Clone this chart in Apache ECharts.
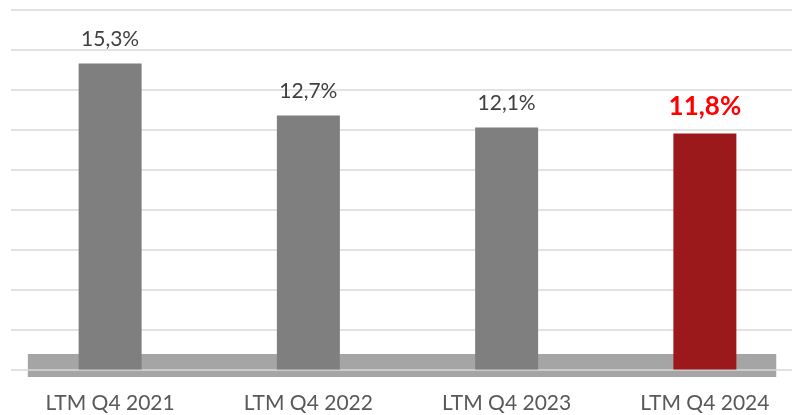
<!DOCTYPE html>
<html>
<head>
<meta charset="utf-8">
<style>
  html, body { margin: 0; padding: 0; background: #ffffff; }
  #chart { width: 792px; height: 415px; }
</style>
<script src="https://cdn.jsdelivr.net/npm/echarts@6/dist/echarts.min.js"></script>
</head>
<body>
<div id="chart"></div>
<script>
// LTM margin by period (%)
const categories = ['LTM Q4 2021', 'LTM Q4 2022', 'LTM Q4 2023', 'LTM Q4 2024'];
const values = [15.3, 12.7, 12.1, 11.8];
const highlightIndex = 3;

const FONT = 'Lato, "Open Sans", sans-serif';
const fmt = v => v.toFixed(1).replace('.', ',') + '%';

const chart = echarts.init(document.getElementById('chart'), null, { renderer: 'canvas' });

const barData = values.map((v, i) => {
  const hi = i === highlightIndex;
  return {
    value: v,
    itemStyle: { color: hi ? '#9b181b' : '#7f7f7f' },
    label: hi
      ? { color: '#ff0000', fontWeight: 'bold', fontSize: 26 }
      : { color: '#404040', fontWeight: 'normal', fontSize: 21 }
  };
});

chart.setOption({
  animation: false,
  backgroundColor: '#ffffff',
  // plot area runs a little past the right edge of the canvas
  grid: {
    left: 11, width: 793, top: 9.5, bottom: 45.5,
    containLabel: false, outerBoundsMode: 'none'
  },
  xAxis: {
    type: 'category',
    data: categories,
    axisLine: { show: false },
    axisTick: { show: false },
    axisLabel: { color: '#595959', fontSize: 21, fontFamily: FONT, margin: 23 }
  },
  yAxis: {
    type: 'value',
    min: 0,
    max: 18,
    interval: 2,
    axisLabel: { show: false },
    axisLine: { show: false },
    axisTick: { show: false },
    splitLine: { lineStyle: { color: '#d9d9d9', width: 1.5 } }
  },
  series: [{
    type: 'bar',
    data: barData,
    barWidth: 63,
    z: 3,
    label: {
      show: true,
      position: 'top',
      distance: 14,
      fontFamily: FONT,
      formatter: p => fmt(p.value)
    }
  }]
});

// Chart floor: a flat grey slab under the bars, drawn behind the gridlines
function drawFloor() {
  const y0 = chart.convertToPixel({ yAxisIndex: 0 }, 0);
  const xFirst = chart.convertToPixel({ xAxisIndex: 0 }, 0);
  const xLast = chart.convertToPixel({ xAxisIndex: 0 }, categories.length - 1);
  const step = (xLast - xFirst) / (categories.length - 1);
  const left = xFirst - step * 0.415;
  const right = xLast + step * 0.36;
  chart.setOption({
    graphic: [{
      type: 'rect',
      z: -1,
      silent: true,
      shape: { x: left, y: y0 - 15.5, width: right - left, height: 23 },
      style: { fill: '#a5a5a5' }
    }]
  });
}
drawFloor();
</script>
</body>
</html>
